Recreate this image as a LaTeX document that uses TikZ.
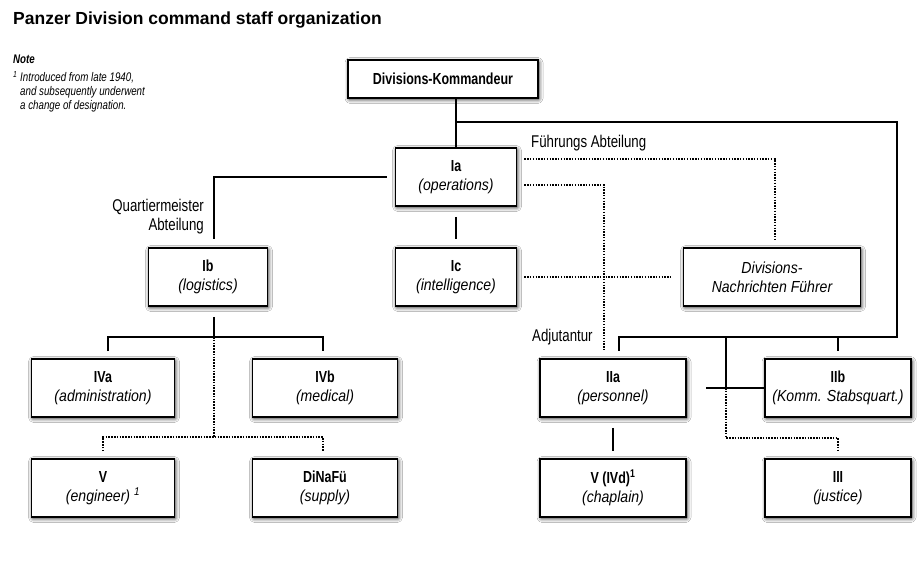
\documentclass[tikz,border=0pt]{standalone}
\usepackage{fontspec}
\setmainfont{Liberation Sans}
\newfontfamily\narrowfont{Liberation Sans}[FakeStretch=0.88]
\newfontfamily\tightfont{Liberation Sans}[FakeStretch=0.78]
\usetikzlibrary{shadows.blur}
\newcommand{\boxhead}[1]{{\tightfont\fontsize{16}{19}\selectfont\bfseries\upshape #1}}

\begin{document}
\begin{tikzpicture}[x=1pt, y=-1pt, unit/.style = {shape=rectangle, draw, line width=1.7pt, align=center, fill=white, minimum height=58pt, minimum width=146pt, inner sep=2pt, font=\narrowfont\fontsize{16}{19}\selectfont\itshape, blur shadow={shadow xshift=1pt, shadow yshift=-1.5pt, shadow blur radius=4pt, shadow blur extra rounding=1pt, shadow opacity=85}}, link/.style = {line width=1.7pt}, dots/.style = {line width=1.6pt, dash pattern=on 1.5pt off 1.3pt}, tag/.style = {font=\tightfont\fontsize{17}{19}\selectfont, inner sep=0pt}]
	\useasboundingbox[fill=white] (0,0) rectangle (923,572);
	\node[anchor=base west, inner sep=0pt, font=\bfseries\fontsize{17.5}{20}\selectfont] (title) at (13,25) {Panzer Division command staff organization};
	\node[anchor=north west, align=left, inner sep=0pt, font=\tightfont\fontsize{12.5}{14}\selectfont\itshape] (note) at (13,55) {\textbf{Note}\\[4pt]\textsuperscript{1} Introduced from late 1940,\\\hphantom{\textsuperscript{1} }and subsequently underwent\\\hphantom{\textsuperscript{1} }a change of designation.};
	% staff boxes
	\node[unit, minimum width=190pt, minimum height=38pt] (kdr) at (443,79) {\boxhead{Divisions-Kommandeur}};
	\node[unit, minimum width=121pt] (ia) at (456,177) {\boxhead{Ia}\\(operations)};
	\node[unit, minimum width=121pt] (ic) at (456,277) {\boxhead{Ic}\\(intelligence)};
	\node[unit, minimum width=119pt] (ib) at (208,277) {\boxhead{Ib}\\(logistics)};
	\node[unit, minimum width=177pt] (dnf) at (772,277) {Divisions-\\Nachrichten Führer};
	\node[unit, minimum width=143pt] (iva) at (103,388) {\boxhead{IVa}\\(administration)};
	\node[unit, minimum width=145pt] (ivb) at (325,388) {\boxhead{IVb}\\(medical)};
	\node[unit, minimum width=143pt] (v) at (103,488) {\boxhead{V}\\(engineer) \textsuperscript{1}};
	\node[unit, minimum width=145pt] (dinafu) at (325,488) {\boxhead{DiNaFü}\\(supply)};
	\node[unit] (iia) at (613,388) {\boxhead{IIa}\\(personnel)};
	\node[unit] (iib) at (838,388) {\boxhead{IIb}\\(Komm. Stabsquart.)};
	\node[unit] (vivd) at (613,488) {\boxhead{V (IVd)\textsuperscript{1}}\\(chaplain)};
	\node[unit] (iii) at (838,488) {\boxhead{III}\\(justice)};
	% labels
	\node[tag, anchor=west] (fa) at (531,143) {Führungs Abteilung};
	\node[tag, anchor=east, align=right] (qa) at (204,217) {Quartiermeister\\Abteilung};
	\node[tag, anchor=west] (adj) at (532,337) {Adjutantur};
	% junctions
	\coordinate (rt) at (897,122);
	\coordinate (hub) at (726,337);
	\coordinate (knot) at (726,388);
	\coordinate (tail) at (706,388);
	\coordinate (qbus) at (214,337);
	\coordinate (qdot) at (214,437);
	% command lines
	\draw[link] (ia.north |- kdr.south) -- (ia.north);
	\draw[link] (ia.north |- rt) -- (rt) |- ([xshift=6pt]iia.north |- hub) -- ([xshift=6pt,yshift=7pt]iia.north);
	\draw[link] (hub) -- (knot);
	\draw[link] (iib.north |- hub) -- ([yshift=7pt]iib.north);
	\draw[link] (tail) -- (iib.west);
	\draw[dots] (knot) -- ++(0,50) -| ([yshift=7pt]iii.north);
	\draw[link] ([xshift=-8pt]ia.west) -| ([xshift=6pt,yshift=8pt]ib.north);
	\draw[link] ([yshift=-10pt]ia.south) -- ([yshift=8pt]ic.north);
	\draw[link] ([xshift=6pt,yshift=-10pt]ib.south) -- (qbus);
	\draw[link] ([xshift=5pt,yshift=7pt]iva.north) |- (qbus) -| ([xshift=-2pt,yshift=7pt]ivb.north);
	\draw[dots] (qbus) -- (qdot);
	\draw[dots] ([yshift=7pt]v.north) |- (qdot) -| ([xshift=-2pt,yshift=7pt]dinafu.north);
	\draw[dots] ([xshift=7pt,yshift=18pt]ia.east) -| ([xshift=3pt,yshift=8pt]dnf.north);
	\draw[dots] ([xshift=7pt,yshift=-8pt]ia.east) -| ([xshift=-9pt,yshift=7pt]iia.north);
	\draw[dots] ([xshift=7pt]ic.east) -- ([xshift=-11pt]dnf.west);
	\draw[link] ([yshift=-10pt]iia.south) -- ([yshift=7pt]vivd.north);
\end{tikzpicture}
\end{document}
